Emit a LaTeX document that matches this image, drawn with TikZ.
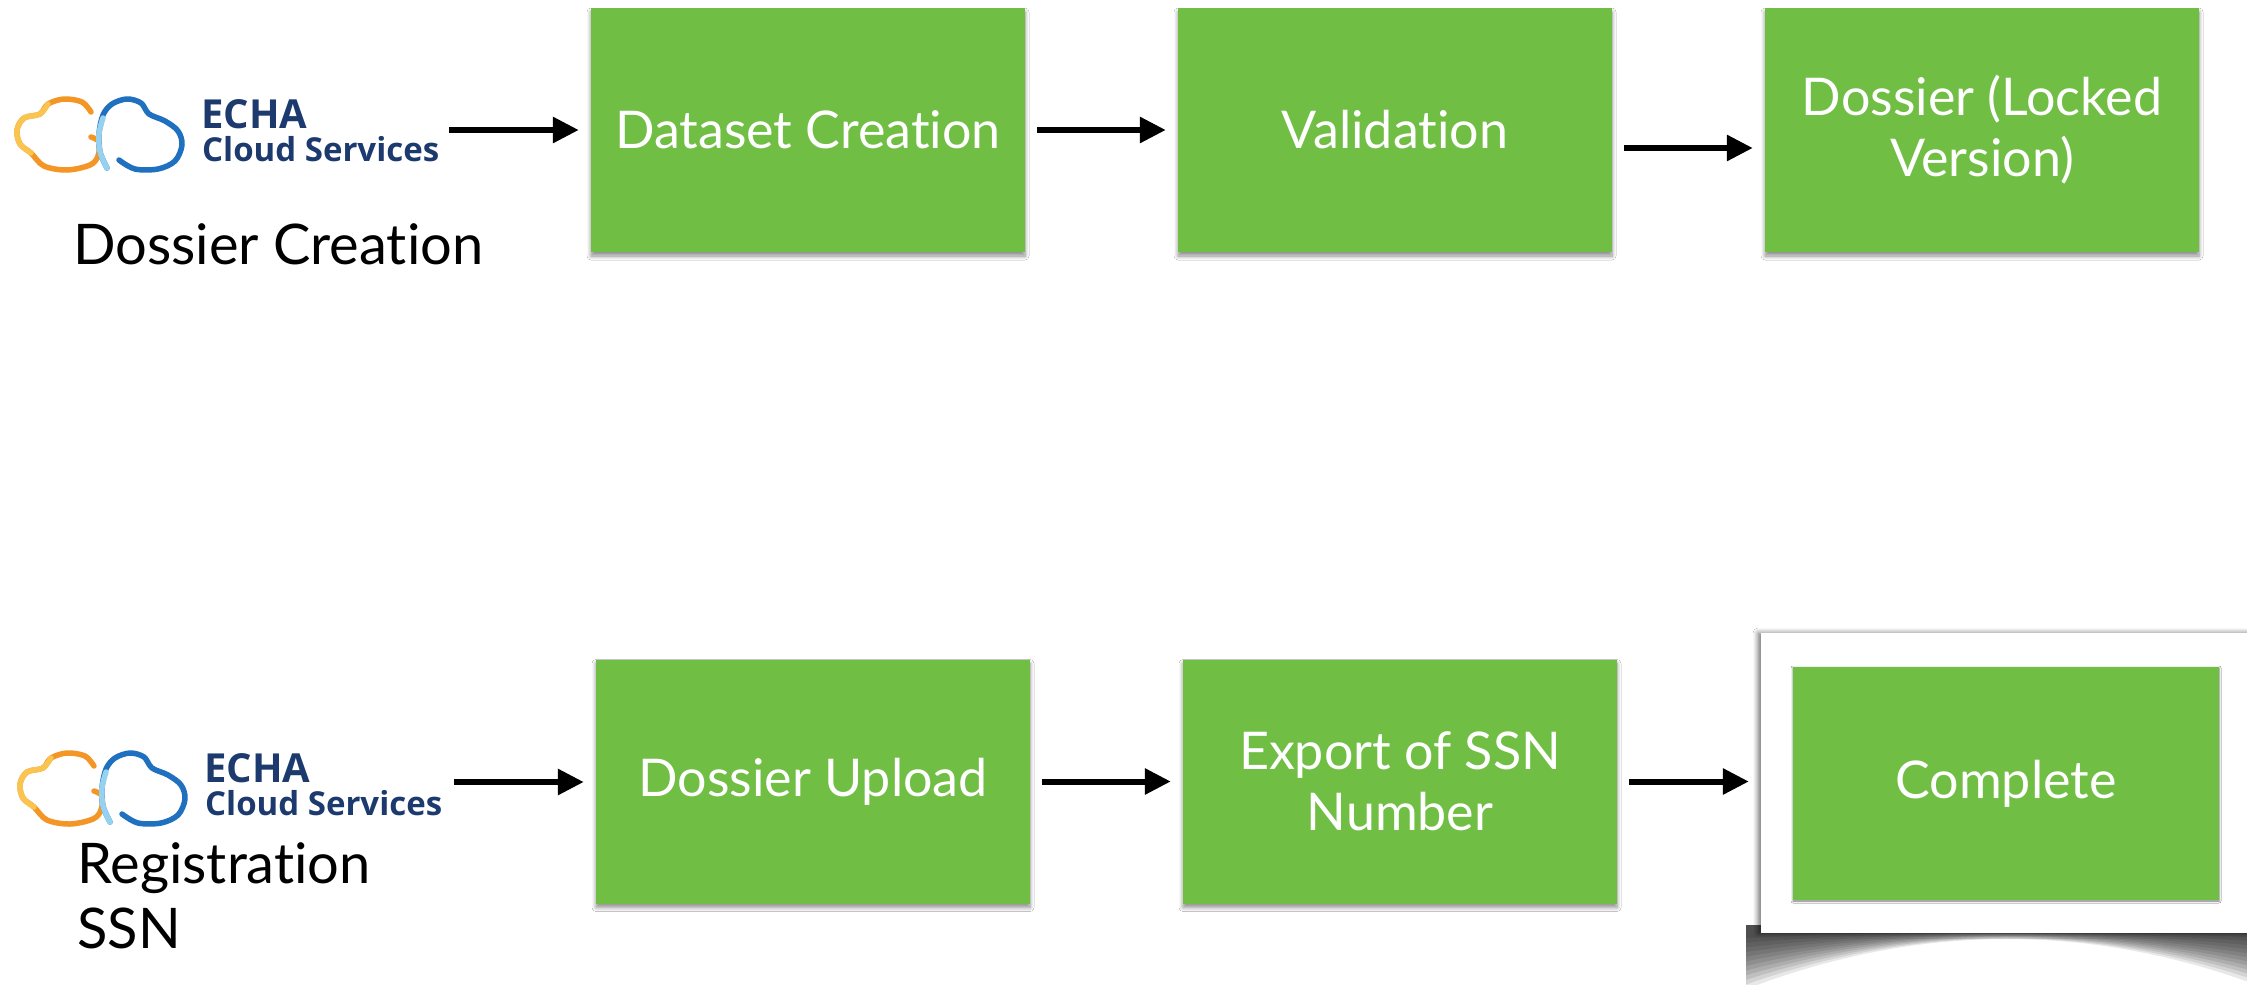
\documentclass[tikz,border=0pt]{standalone}
\usepackage{fontspec}
\setmainfont{Lato}[Ligatures={NoCommon,NoContextual}]
\newfontfamily\logofont{Open Sans}
\usetikzlibrary{arrows.meta,shadows.blur}
\definecolor{boxgreen}{RGB}{113,190,69}
\definecolor{echanavy}{RGB}{28,58,110}
\definecolor{cloudorange}{RGB}{243,150,38}
\definecolor{cloudyellow}{RGB}{250,196,80}
\definecolor{cloudblue}{RGB}{32,112,192}
\definecolor{cloudcyan}{RGB}{150,210,240}
\tikzset{
  echalogo/.pic={
    \draw[cloudorange, line width=5.5pt, line cap=round, line join=round]
      plot[smooth, tension=0.55] coordinates {(91,137) (99,142) (98,156) (90,165) (67,170) (44,166) (31,153) (20,144) (17,130) (24,118) (40,114) (48,104) (64,99) (82,102) (91,112)};
    \draw[cloudyellow, line width=5.5pt, line cap=round]
      plot[smooth, tension=0.55] coordinates {(31,153) (20,144) (17,130) (24,118) (40,114) (48,104)};
    \draw[cloudblue, line width=5.5pt, line cap=round, line join=round]
      plot[smooth, tension=0.55] coordinates {(107,168) (100,152) (99,134) (103,115) (112,104) (127,99) (141,103) (149,114) (165,121) (178,131) (182,145) (175,161) (158,169) (135,169) (119,160)};
    \draw[cloudcyan, line width=5.5pt, line cap=round]
      plot[smooth, tension=0.55] coordinates {(107,168) (100,152) (99,134) (103,118)};
    \node[anchor=base west, inner sep=0pt, text=echanavy, text height=29pt, text depth=0pt,
      font=\logofont\bfseries\fontsize{40}{40}\selectfont] (-echa) at (201,128) {ECHA};
    \node[anchor=base west, inner sep=0pt, text=echanavy, text height=23pt, text depth=0pt,
      font=\logofont\bfseries\fontsize{33}{33}\selectfont] (-cloud) at (202,161) {Cloud Services};
  }
}
\begin{document}
\begin{tikzpicture}[x=1pt,y=-1pt,
  stepbox/.style={fill=boxgreen, text=white, minimum width=434pt, minimum height=244pt,
    inner sep=0pt, align=center, font=\fontsize{52}{61}\selectfont,
    blur shadow={shadow xshift=0pt, shadow yshift=-4pt, shadow blur radius=4pt,
      shadow blur steps=6, shadow opacity=45}},
  flow/.style={line width=6pt, -{Triangle[length=26pt,width=25pt]},
    shorten <=12pt, shorten >=12pt},
  sidelabel/.style={anchor=base west, inner sep=0pt, font=\fontsize{56}{65}\selectfont}
]
\useasboundingbox (0,0) rectangle (2247,985);
\clip (0,0) rectangle (2247,985);
\fill[white] (0,0) rectangle (2247,985);

% ---------- top row ----------
\pic (logoA) at (0,0) {echalogo};
\node[sidelabel] (lblA) at (73,264) {Dossier Creation};
\coordinate (logoAout) at (449,130);

\node[stepbox] (dataset) at (808,130) {Dataset Creation};
\node[stepbox] (valid) at (1395,130) {Validation};
\node[stepbox] (locked) at (1982,130) {Dossier (Locked\\Version)};

\draw[flow, shorten <=0pt] (logoAout) -- (logoAout -| dataset.west);
\draw[flow] (dataset.east) -- (valid.west);
\draw[flow] ([yshift=-18pt]valid.east) -- ([yshift=-18pt]locked.west);

% ---------- bottom row ----------
\pic (logoB) at (3,654) {echalogo};
\node[sidelabel] (lblB1) at (77,883) {Registration};
\node[sidelabel] (lblB2) at (77,948) {SSN};
\coordinate (logoBout) at (454,782);

\node[stepbox] (upload) at (813,781.5) {Dossier Upload};
\node[stepbox] (export) at (1400,781.5) {Export of SSN\\Number};

% curled shadow under the frame (stacked soft layers)
\foreach \f in {1,0.92,0.84,0.76,0.68,0.6,0.52,0.44,0.36,0.28,0.2,0.12}{
  \fill[black, opacity=0.09]
    plot[domain=1746:2252, samples=40] (\x, {931 + \f*(8 + 46*((\x-2007)/250)^2)})
    -- (2252,925) -- (1746,925) -- cycle;
}
\node[fill=white, minimum width=560pt, minimum height=300pt, inner sep=0pt,
  blur shadow={shadow xshift=-3pt, shadow yshift=0pt, shadow blur radius=5pt,
    shadow blur steps=6, shadow opacity=55}] (frame) at (2041,783) {};
\node[stepbox, minimum width=426pt, minimum height=233pt,
  blur shadow={shadow xshift=0pt, shadow yshift=-1pt, shadow blur radius=2pt,
    shadow blur steps=4, shadow opacity=30}] (complete) at (2006,783.5) {Complete};

\draw[flow, shorten <=0pt] (logoBout) -- (logoBout -| upload.west);
\draw[flow] (upload.east) -- (export.west);
\draw[flow] (export.east) -- (export.east -| frame.west);
\end{tikzpicture}
\end{document}
